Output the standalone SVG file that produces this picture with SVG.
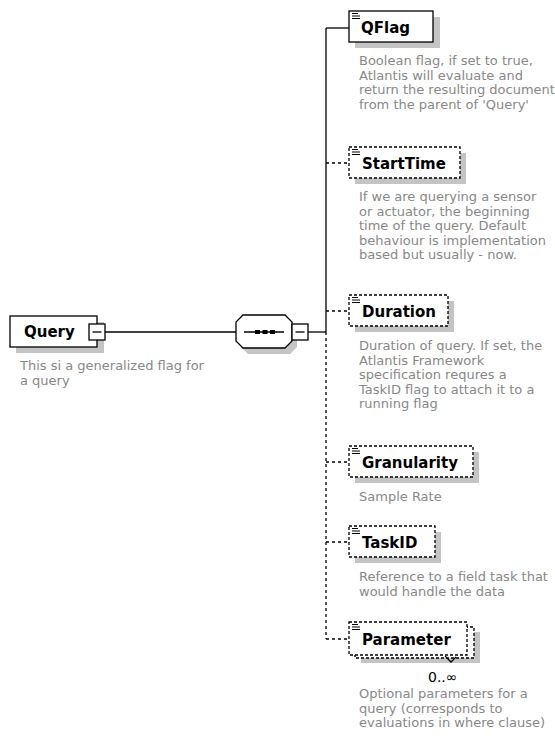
<svg xmlns="http://www.w3.org/2000/svg" width="555" height="740" viewBox="0 0 555 740">
  <style>
    .shadow { fill: #c4c4c4; }
    .box { fill: #ffffff; stroke: #000000; stroke-width: 1.3; }
    .opt { stroke-dasharray: 3 2; }
    .wire { fill: none; stroke: #000000; stroke-width: 1.3; }
    .dash { stroke-dasharray: 3 3; }
    .lbl { font-family: "DejaVu Sans", Verdana, sans-serif; font-weight: bold; font-size: 15px; fill: #000000; }
    .desc { font-family: "DejaVu Sans", Verdana, sans-serif; font-size: 13px; fill: #888888; }
    .occ { font-family: "DejaVu Sans", Verdana, sans-serif; font-size: 14px; fill: #000000; }
    .icon { fill: none; stroke: #000000; stroke-width: 1; }
  </style>
  <defs>
    <!-- element glyph in the top-left corner of child boxes -->
    <path id="elemIcon" class="icon" d="M0 0.5h6 M0 3h8 M0 5.5h8"/>
    <!-- collapse toggle (minus in a square) -->
    <g id="minus">
      <rect x="0" y="0" width="16" height="16" class="box"/>
      <line x1="3.5" y1="8" x2="12.5" y2="8" stroke="#000" stroke-width="1.3"/>
    </g>
  </defs>

  <!-- connectors -->
  <g id="connectors">
    <line class="wire" x1="105" y1="332" x2="236" y2="332"/>
    <line class="wire" x1="308" y1="332" x2="326" y2="332"/>
    <line class="wire" x1="326" y1="28" x2="326" y2="332"/>
    <line class="wire dash" x1="326" y1="332" x2="326" y2="639"/>
    <line class="wire" x1="326" y1="28" x2="349" y2="28"/>
    <line class="wire dash" x1="326" y1="163" x2="349" y2="163"/>
    <line class="wire dash" x1="326" y1="311" x2="349" y2="311"/>
    <line class="wire dash" x1="326" y1="462" x2="349" y2="462"/>
    <line class="wire dash" x1="326" y1="542" x2="349" y2="542"/>
    <line class="wire dash" x1="326" y1="639" x2="349" y2="639"/>
  </g>

  <!-- root element -->
  <g id="Query">
    <rect class="shadow" x="16" y="322" width="88" height="31"/>
    <rect class="box" x="10" y="316" width="87" height="31"/>
    <text class="lbl" x="24" y="337">Query</text>
    <use href="#minus" x="89" y="324"/>
    <text class="desc" x="20" y="370">This si a generalized flag for</text>
    <text class="desc" x="20" y="384.5">a query</text>
  </g>

  <!-- sequence compositor -->
  <g id="sequence">
    <polygon class="shadow" points="248,321 290,321 297,328 297,347 290,354 248,354 241,347 241,328"/>
    <polygon class="box" points="243,315 285,315 292,322 292,341 285,348 243,348 236,341 236,322"/>
    <line x1="244" y1="332" x2="284" y2="332" stroke="#000" stroke-width="1.3"/>
    <rect x="255" y="330" width="5" height="4" fill="#000"/>
    <rect x="262.5" y="330" width="5" height="4" fill="#000"/>
    <rect x="270" y="330" width="5" height="4" fill="#000"/>
    <use href="#minus" x="292" y="324"/>
  </g>

  <g id="QFlag">
    <rect class="shadow" x="355" y="17" width="85" height="31"/>
    <rect class="box" x="349" y="11" width="84" height="31"/>
    <use href="#elemIcon" x="352" y="13"/>
    <text class="lbl" x="361" y="32.5">QFlag</text>
    <text class="desc" x="359" y="65">Boolean flag, if set to true,</text>
    <text class="desc" x="359" y="79.5">Atlantis will evaluate and</text>
    <text class="desc" x="359" y="94">return the resulting document</text>
    <text class="desc" x="359" y="108.5">from the parent of 'Query'</text>
  </g>

  <g id="StartTime">
    <rect class="shadow" x="355" y="153" width="111" height="31"/>
    <rect class="box opt" x="349" y="147" width="111" height="31"/>
    <use href="#elemIcon" x="352" y="149"/>
    <text class="lbl" x="362" y="168.5">StartTime</text>
    <text class="desc" x="359" y="201">If we are querying a sensor</text>
    <text class="desc" x="359" y="215.5">or actuator, the beginning</text>
    <text class="desc" x="359" y="230">time of the query. Default</text>
    <text class="desc" x="359" y="244.5">behaviour is implementation</text>
    <text class="desc" x="359" y="259">based but usually - now.</text>
  </g>

  <g id="Duration">
    <rect class="shadow" x="355" y="301" width="99" height="31"/>
    <rect class="box opt" x="349" y="295" width="99" height="31"/>
    <use href="#elemIcon" x="352" y="297"/>
    <text class="lbl" x="362" y="316.5">Duration</text>
    <text class="desc" x="359" y="350">Duration of query. If set, the</text>
    <text class="desc" x="359" y="364.5">Atlantis Framework</text>
    <text class="desc" x="359" y="379">specification requres a</text>
    <text class="desc" x="359" y="393.5">TaskID flag to attach it to a</text>
    <text class="desc" x="359" y="408">running flag</text>
  </g>

  <g id="Granularity">
    <rect class="shadow" x="355" y="452" width="124" height="31"/>
    <rect class="box opt" x="349" y="446" width="124" height="31"/>
    <use href="#elemIcon" x="352" y="448"/>
    <text class="lbl" x="362" y="467.5">Granularity</text>
    <text class="desc" x="359" y="501">Sample Rate</text>
  </g>

  <g id="TaskID">
    <rect class="shadow" x="355" y="532" width="86" height="31"/>
    <rect class="box opt" x="349" y="526" width="86" height="31"/>
    <use href="#elemIcon" x="352" y="528"/>
    <text class="lbl" x="362" y="547.5">TaskID</text>
    <text class="desc" x="359" y="581">Reference to a field task that</text>
    <text class="desc" x="359" y="595.5">would handle the data</text>
  </g>

  <g id="Parameter">
    <rect class="shadow" x="361" y="632" width="119" height="31"/>
    <rect class="box opt" x="355" y="627" width="119" height="31"/>
    <rect class="box opt" x="349" y="622" width="118" height="33"/>
    <use href="#elemIcon" x="352" y="624"/>
    <text class="lbl" x="362" y="644.5">Parameter</text>
    <polyline class="wire" points="445,656 451,662 456,657" stroke-width="1"/>
    <text class="occ" x="428" y="682">0..∞</text>
    <text class="desc" x="359" y="698">Optional parameters for a</text>
    <text class="desc" x="359" y="712.5">query (corresponds to</text>
    <text class="desc" x="359" y="727">evaluations in where clause)</text>
  </g>
</svg>
